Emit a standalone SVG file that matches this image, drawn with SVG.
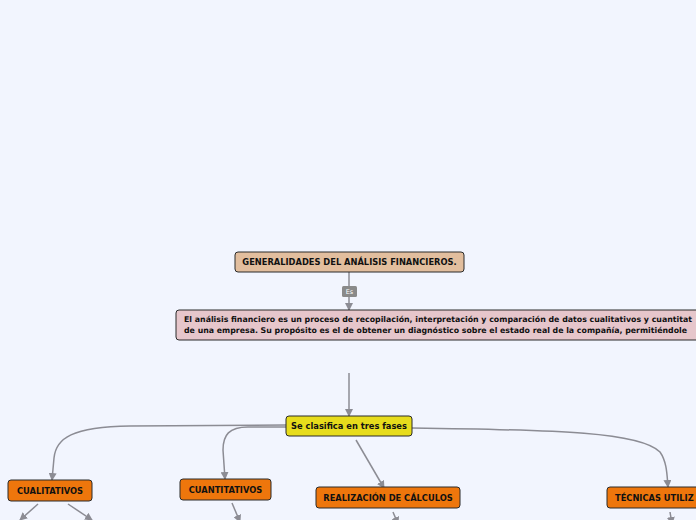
<svg xmlns="http://www.w3.org/2000/svg" width="696" height="520" viewBox="0 0 696 520">
<defs>
<marker id="ah" markerWidth="8" markerHeight="8" refX="7" refY="4" orient="auto" markerUnits="userSpaceOnUse">
<path d="M0,0 L8,4 L0,8 Z" fill="#8c8c94"/>
</marker>
<style>
.box{stroke:#2b2b2b;stroke-width:1}
.t{font-family:"DejaVu Sans",Verdana,sans-serif;font-weight:bold;font-size:8.3px;fill:#111}
.p{font-size:7.9px}
.c{fill:none;stroke:#8c8c94;stroke-width:1.5;marker-end:url(#ah)}
.l{fill:none;stroke:#8c8c94;stroke-width:1.5}
</style>
</defs>
<rect width="696" height="520" fill="#f2f5fe"/>
<g id="connectors">
<path class="l" d="M349,272 L349,286"/>
<path class="c" d="M349,297 L349,310"/>
<path class="c" d="M349,373 L349,416"/>
<path class="c" d="M286,425 L130,426 C72,427 56,438 54,458 L52,480"/>
<path class="c" d="M286,427 L248,427 C229,427 223,435 223,450 L225,479"/>
<path class="c" d="M356,440 L384,488"/>
<path class="c" d="M412,428 C560,430 640,432 660,452 C667,462 667,475 668,487"/>
<path class="c" d="M38,504 L20,520"/>
<path class="c" d="M68,504 L92,520"/>
<path class="c" d="M232,503 L240,522"/>
<path class="c" d="M393,512 L398,524"/>
<path class="c" d="M670,512 L672,524"/>
</g>
<g id="label-es">
<rect x="342" y="286" width="15" height="11" rx="1.5" fill="#8a8a8a"/>
<text x="349.5" y="294" text-anchor="middle" style="font-family:'DejaVu Sans',sans-serif;font-size:6.5px;fill:#fff">Es</text>
</g>
<g id="n-generalidades">
<rect class="box" x="235" y="252" width="229" height="20" rx="3" fill="#e2be9e"/>
<text class="t" x="349.5" y="265" text-anchor="middle">GENERALIDADES DEL ANÁLISIS FINANCIEROS.</text>
</g>
<g id="n-definicion">
<rect class="box" x="176" y="310" width="540" height="30" rx="3" fill="#e6c6cb"/>
<text class="t p" x="184" y="322" textLength="508" lengthAdjust="spacingAndGlyphs">El análisis financiero es un proceso de recopilación, interpretación y comparación de datos cualitativos y cuantitat</text>
<text class="t p" x="184" y="333" textLength="503" lengthAdjust="spacingAndGlyphs">de una empresa. Su propósito es el de obtener un diagnóstico sobre el estado real de la compañía, permitiéndole</text>
</g>
<g id="n-fases">
<rect class="box" x="286" y="416" width="126" height="20" rx="3" fill="#e7dc1c"/>
<text class="t" x="349" y="429" text-anchor="middle">Se clasifica en tres fases</text>
</g>
<g id="n-cualitativos">
<rect class="box" x="8" y="480" width="84" height="21" rx="3" fill="#ee760c"/>
<text class="t" x="50" y="493.5" text-anchor="middle">CUALITATIVOS</text>
</g>
<g id="n-cuantitativos">
<rect class="box" x="180" y="479" width="91" height="21" rx="3" fill="#ee760c"/>
<text class="t" x="225.5" y="492.5" text-anchor="middle">CUANTITATIVOS</text>
</g>
<g id="n-calculos">
<rect class="box" x="316" y="487" width="144" height="21" rx="3" fill="#ee760c"/>
<text class="t" x="388" y="500.5" text-anchor="middle">REALIZACIÓN DE CÁLCULOS</text>
</g>
<g id="n-tecnicas">
<rect class="box" x="607" y="487" width="110" height="21" rx="3" fill="#ee760c"/>
<text class="t" x="615" y="500.5">TÉCNICAS UTILIZ</text>
</g>
</svg>
